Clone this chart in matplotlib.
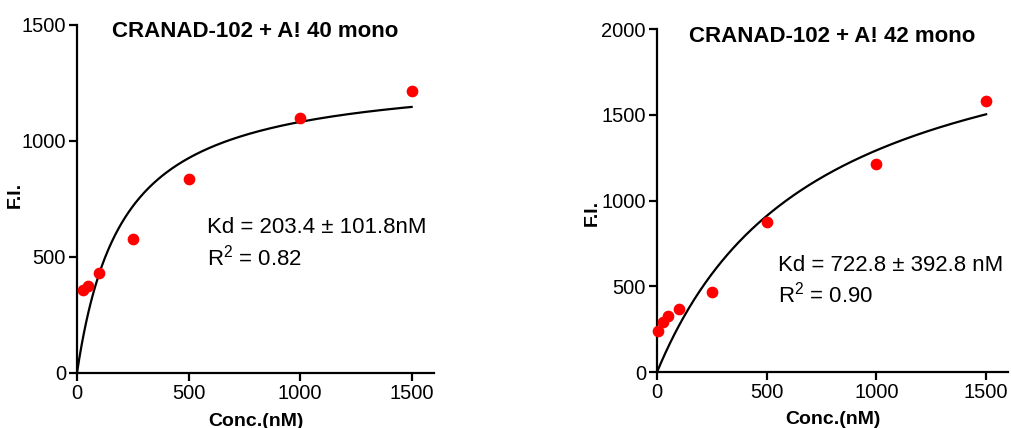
import numpy as np
import matplotlib
matplotlib.use("Agg")
import matplotlib.pyplot as plt

plt.rcParams['font.family'] = ['Liberation Sans', 'DejaVu Sans']
plt.rcParams['mathtext.fontset'] = 'custom'
plt.rcParams['mathtext.rm'] = 'Liberation Sans'

# Abeta40 mono
conc_40 = [25, 50, 100, 250, 500, 1000, 1500]
fi_40 = [355, 372, 428, 578, 836, 1097, 1217]
kd_40 = 203.4
bmax_40 = 1302

# Abeta42 mono
conc_42 = [3, 25, 50, 100, 250, 500, 1000, 1500]
fi_42 = [239, 290, 328, 367, 468, 873, 1211, 1580]
kd_42 = 722.8
bmax_42 = 2227

fig = plt.figure(figsize=(10.11, 4.28), dpi=100)
ax1 = fig.add_axes([0.0762, 0.1292, 0.353, 0.8124])
ax2 = fig.add_axes([0.6499, 0.1308, 0.3472, 0.8014])


def panel(ax, conc, fi, kd, bmax, ymax, title, kd_txt, r2_txt, tx, ty, ky, ry, ylab_x, ylab_y):
    xs = np.linspace(0, 1500, 300)
    ax.plot(xs, bmax * xs / (kd + xs), color='black', lw=1.6, zorder=2)
    ax.scatter(conc, fi, s=55, color='#ff0000', zorder=3, clip_on=False)
    ax.set_xlim(0, 1600)
    ax.set_ylim(0, ymax)
    ax.set_xticks([0, 500, 1000, 1500])
    ax.set_yticks(np.arange(0, ymax + 1, 500))
    for s in ['top', 'right']:
        ax.spines[s].set_visible(False)
    for s in ['left', 'bottom']:
        ax.spines[s].set_linewidth(1.6)
    ax.tick_params(width=1.6, length=6, labelsize=14.5, pad=2)
    ax.set_xlabel('Conc.(nM)', fontsize=14, fontweight='bold')
    ax.set_ylabel('F.I.', fontsize=14, fontweight='bold')
    ax.xaxis.set_label_coords(0.5, -0.115)
    ax.yaxis.set_label_coords(ylab_x, ylab_y)
    ax.text(800, ty, title, fontsize=16, fontweight='bold', ha='center', va='center')
    ax.text(tx, ky, kd_txt, fontsize=16, ha='left', va='center')
    ax.text(tx, ry, r2_txt, fontsize=16, ha='left', va='center')


panel(ax1, conc_40, fi_40, kd_40, bmax_40, 1500, 'CRANAD-102 + A! 40 mono',
      'Kd = 203.4 \u00b1 101.8nM', r'R$^2$ = 0.82', 582, 1470, 628, 495, -0.15, 0.51)
panel(ax2, conc_42, fi_42, kd_42, bmax_42, 2000, 'CRANAD-102 + A! 42 mono',
      'Kd = 722.8 \u00b1 392.8 nM', r'R$^2$ = 0.90', 552, 1959, 624, 449, -0.16, 0.464)

fig.savefig('out.png', dpi=100)
